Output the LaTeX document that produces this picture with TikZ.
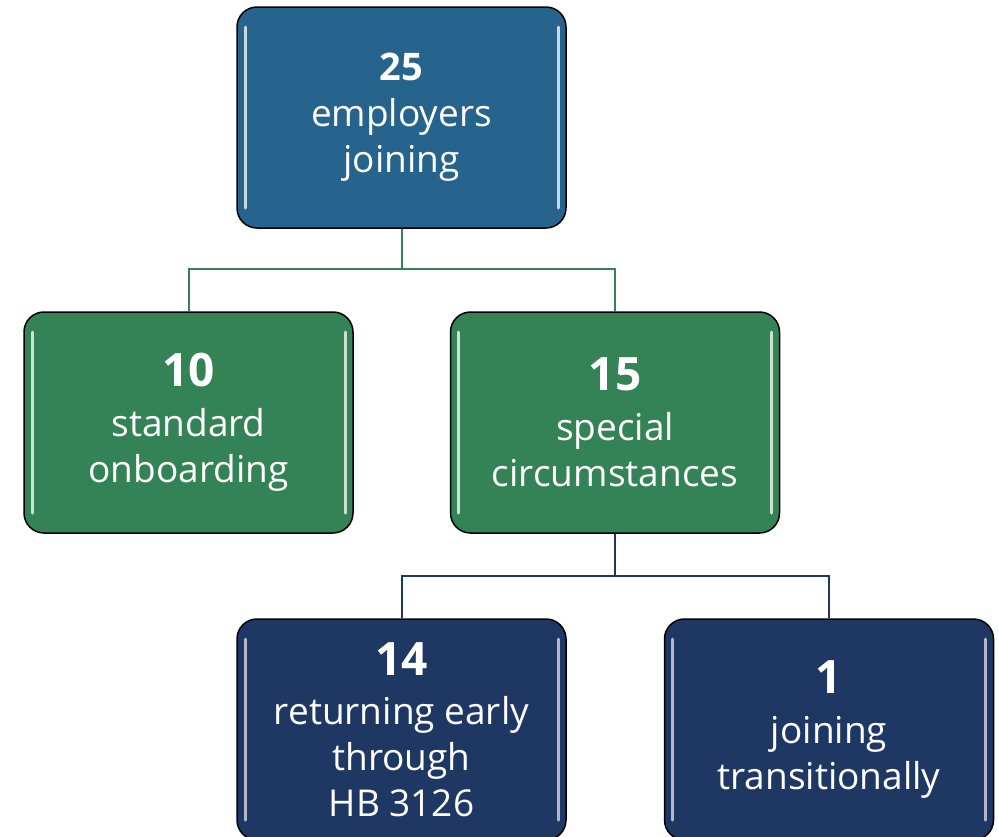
\documentclass[tikz,border=0pt]{standalone}
\usepackage{fontspec}
\setmainfont{Open Sans}
\usetikzlibrary{shapes,arrows}
\definecolor{topblue}{RGB}{38,99,141}
\definecolor{midgreen}{RGB}{52,131,86}
\definecolor{darknavy}{RGB}{30,55,99}
\tikzstyle{line} = [draw, line width=2pt]
\tikzstyle{box} = [rectangle, draw=black, line width=1.5pt, rounded corners=20pt, minimum width=329pt, minimum height=221pt, text=white, align=center, font=\fontsize{37}{46}\selectfont, node distance=305pt]
\tikzset{gloss/.style={path picture={
  \draw[#1, line width=3pt, line cap=round] ([shift={(8pt,-20pt)}]path picture bounding box.north west) -- ([shift={(8pt,20pt)}]path picture bounding box.south west);
  \draw[#1, line width=3pt, line cap=round] ([shift={(-8pt,-20pt)}]path picture bounding box.north east) -- ([shift={(-8pt,20pt)}]path picture bounding box.south east);}}}
\newcommand{\bignum}[1]{{\fontsize{46}{46}\selectfont\bfseries #1}}

\begin{document}
\begin{tikzpicture}[x=1pt, y=-1pt]
	\useasboundingbox (0,0) rectangle (998,836);
	\clip (0,0) rectangle (998,836);

	\node [box, fill=topblue, gloss=topblue!25!white] (top) at (401.5,117.5) {{\fontsize{38}{46}\selectfont\bfseries 25}\\employers\\joining};
	\node [box, below of = top, xshift = -213pt, fill=midgreen, gloss=midgreen!25!white] (std) {\bignum{10}\\[4pt]standard\\onboarding};
	\node [box, below of = top, xshift = 213.5pt, fill=midgreen, gloss=midgreen!25!white] (spec) {\bignum{15}\\[4pt]special\\circumstances};
	\node [box, below of = spec, node distance = 307pt, xshift = -213.5pt, fill=darknavy, gloss=darknavy!35!white] (early) {\bignum{14}\\[3pt]returning early\\through\\HB 3126};
	\node [box, below of = spec, node distance = 307pt, xshift = 214pt, fill=darknavy, gloss=darknavy!35!white] (trans) {\bignum{1}\\[4pt]joining\\transitionally};

	\path [line, draw=midgreen] (top.south) -- ++(0,40) -| (std.north);
	\path [line, draw=midgreen] (top.south) -- ++(0,40) -| (spec.north);
	\path [line, draw=darknavy] (spec.south) -- ++(0,42) -| (early.north);
	\path [line, draw=darknavy] (spec.south) -- ++(0,42) -| (trans.north);
\end{tikzpicture}
\end{document}
